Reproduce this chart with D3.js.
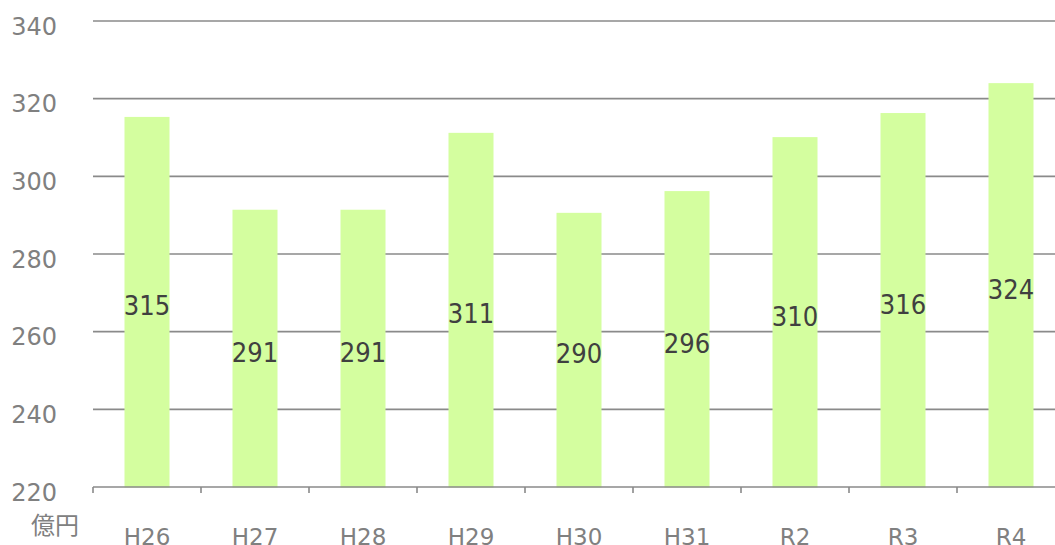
<!DOCTYPE html>
<html>
<head>
<meta charset="utf-8">
<script src="https://cdn.jsdelivr.net/npm/d3@7"></script>
<style>
html, body { margin: 0; padding: 0; background: #fff; overflow: hidden; }
svg { display: block; }
</style>
</head>
<body>
<svg id="chart" width="1055" height="545"></svg>
<script>
const categories = ["H26", "H27", "H28", "H29", "H30", "H31", "R2", "R3", "R4"];
const values = [315.3, 291.4, 291.4, 311.2, 290.6, 296.2, 310.1, 316.3, 324.0];
const labels = ["315", "291", "291", "311", "290", "296", "310", "316", "324"];
const yTicks = [220, 240, 260, 280, 300, 320, 340];
const unitLabel = "億円";

(function () {
const svg = d3.select("#chart");
const W = 1055;
const plotLeft = 93, bandStep = 108;
const plotTop = 21, plotBottom = 487;

const x = d3.scaleBand()
  .domain(categories)
  .range([plotLeft, plotLeft + bandStep * categories.length])
  .paddingInner(63 / 108)
  .paddingOuter(31.5 / 108);

const y = d3.scaleLinear().domain([220, 340]).range([plotBottom, plotTop]);

const gray = "#8a8a8a";
const labelGray = "#808080";

// gridlines
svg.append("g").selectAll("line")
  .data(yTicks.filter(t => t !== 220))
  .join("line")
  .attr("x1", plotLeft).attr("x2", W)
  .attr("y1", d => y(d)).attr("y2", d => y(d))
  .attr("stroke", gray).attr("stroke-width", 1.6);

// y labels
svg.append("g").selectAll("text")
  .data(yTicks)
  .join("text")
  .attr("x", 57).attr("y", d => y(d) + 13.5)
  .attr("text-anchor", "end")
  .attr("font-family", "DejaVu Sans, Verdana, sans-serif")
  .attr("font-size", 24)
  .attr("fill", labelGray)
  .text(d => d);

// bars
svg.append("g").selectAll("rect")
  .data(values)
  .join("rect")
  .attr("x", (d, i) => x(categories[i]))
  .attr("width", x.bandwidth())
  .attr("y", d => y(d))
  .attr("height", d => y(220) - y(d) + 0.5)
  .attr("fill", "#d4fe9f");

// x axis line and ticks
svg.append("line")
  .attr("x1", plotLeft).attr("x2", W)
  .attr("y1", plotBottom).attr("y2", plotBottom)
  .attr("stroke", gray).attr("stroke-width", 1.6);

const tickPositions = categories.map((c, i) => plotLeft + i * x.step());
svg.append("g").selectAll("line")
  .data(tickPositions)
  .join("line")
  .attr("x1", d => d).attr("x2", d => d)
  .attr("y1", plotBottom).attr("y2", plotBottom + 6)
  .attr("stroke", gray).attr("stroke-width", 1.6);

// data labels
svg.append("g").selectAll("text")
  .data(values)
  .join("text")
  .attr("x", (d, i) => x(categories[i]) + x.bandwidth() / 2)
  .attr("y", d => (y(d) + y(220)) / 2 + 13.5)
  .attr("text-anchor", "middle")
  .attr("font-family", "DejaVu Sans Condensed, DejaVu Sans, sans-serif")
  .attr("font-stretch", "condensed")
  .attr("font-size", 27)
  .attr("fill", "#404040")
  .text((d, i) => labels[i]);

// x labels
svg.append("g").selectAll("text")
  .data(categories)
  .join("text")
  .attr("x", d => x(d) + x.bandwidth() / 2)
  .attr("y", 545)
  .attr("text-anchor", "middle")
  .attr("font-family", "DejaVu Sans, Verdana, sans-serif")
  .attr("font-size", 23)
  .attr("fill", labelGray)
  .text(d => d);

// unit label
svg.append("text")
  .attr("x", 79).attr("y", 534)
  .attr("text-anchor", "end")
  .attr("font-family", "Noto Sans CJK JP, sans-serif")
  .attr("font-size", 24)
  .attr("fill", labelGray)
  .text(unitLabel);
})();
</script>
</body>
</html>
